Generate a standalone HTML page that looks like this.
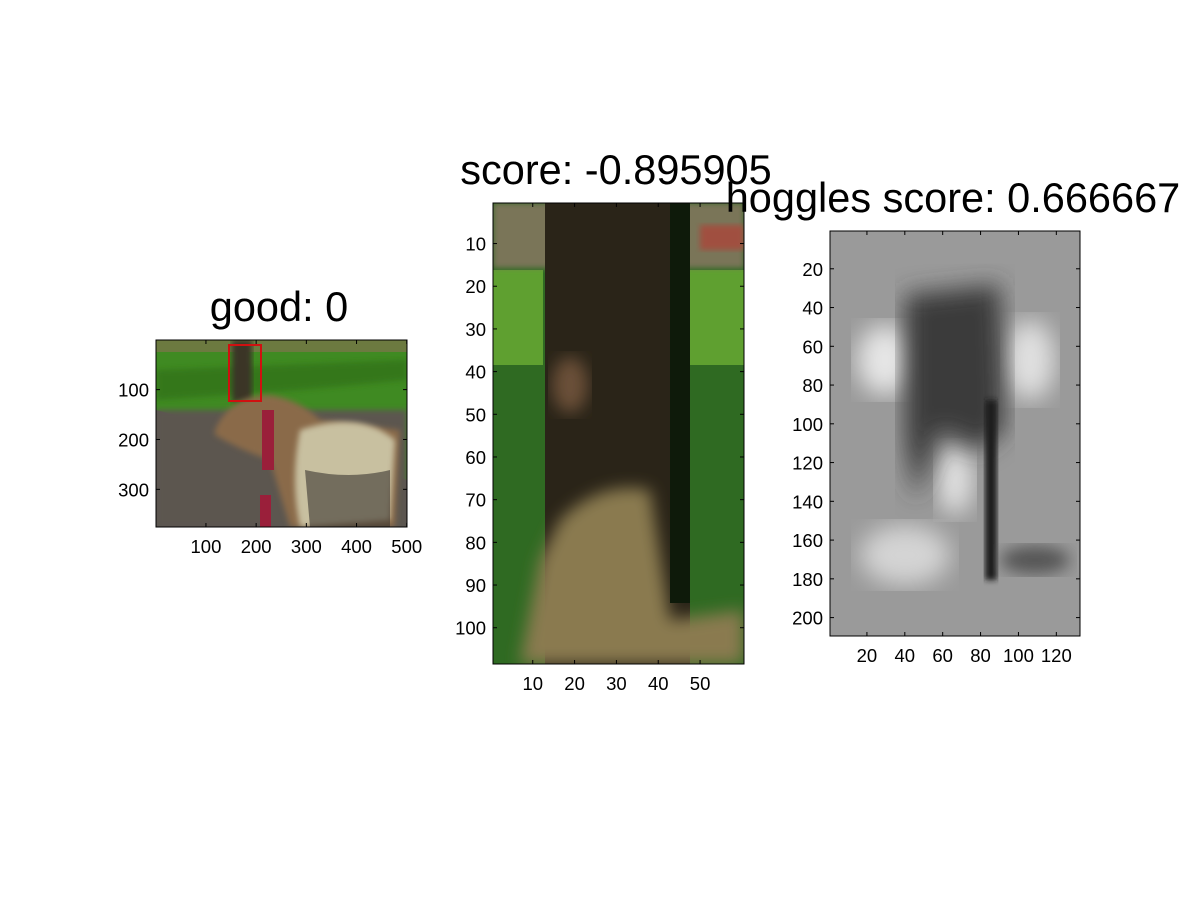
<!DOCTYPE html>
<html><head><meta charset="utf-8"><style>
html,body{margin:0;padding:0;background:#fff;}
svg{display:block;font-family:"Liberation Sans",sans-serif;}
</style></head><body>
<svg id="fig" width="1200" height="900" viewBox="0 0 1200 900" xmlns="http://www.w3.org/2000/svg">
<defs>
<filter id="b3"><feGaussianBlur stdDeviation="3"/></filter>
<filter id="b8"><feGaussianBlur stdDeviation="8"/></filter>
<filter id="b12"><feGaussianBlur stdDeviation="12"/></filter>
<clipPath id="c1"><rect x="156" y="340" width="251" height="187"/></clipPath>
<clipPath id="c2"><rect x="493" y="203" width="251" height="461"/></clipPath>
<clipPath id="c3"><rect x="830" y="231" width="250" height="405"/></clipPath>
</defs>
<g clip-path="url(#c1)">
<rect x="156" y="340" width="251" height="187" fill="#5a5550"/>
<rect x="156" y="340" width="251" height="12" fill="#6c7a40"/>
<polygon points="156,352 407,352 407,480 380,470 156,410" fill="#3f8a22"/>
<polygon points="156,400 300,390 407,380 407,360 156,370" fill="#2f6c18" opacity="0.6" filter="url(#b3)"/>
<rect x="156" y="410" width="251" height="117" fill="#5b5650" filter="url(#b3)"/>
<rect x="232" y="340" width="20" height="62" fill="#3a3428" filter="url(#b3)"/>
<path d="M215,430 Q230,395 270,395 Q300,400 320,420 L400,430 L395,527 L290,527 L270,460 Q240,450 215,435Z" fill="#8a6a48" filter="url(#b3)"/>
<path d="M300,430 Q360,410 395,440 L390,520 L300,527 Q290,480 300,430Z" fill="#c8c0a0" filter="url(#b3)"/>
<path d="M305,470 Q350,480 390,470 L390,527 L310,527Z" fill="#3a3630" opacity="0.6"/>
<rect x="262" y="410" width="12" height="60" fill="#9a1f3a"/>
<rect x="260" y="495" width="11" height="32" fill="#9a1f3a"/>
<rect x="229" y="345" width="32" height="56" fill="none" stroke="#d01010" stroke-width="2"/>
</g>
<rect x="156" y="340" width="251" height="187" fill="none" stroke="#000" stroke-width="1"/>
<g clip-path="url(#c2)">
<rect x="493" y="203" width="251" height="461" fill="#2f6a22"/>
<rect x="493" y="270" width="50" height="95" fill="#5fa030"/>
<rect x="690" y="270" width="54" height="95" fill="#5fa030"/>
<rect x="493" y="203" width="251" height="65" fill="#7a7458" filter="url(#b3)"/>
<rect x="700" y="225" width="44" height="25" fill="#a05040" filter="url(#b3)"/>
<rect x="545" y="203" width="145" height="461" fill="#2a2418"/>
<path d="M520,664 L540,560 L560,520 Q600,480 650,490 L670,620 L744,610 L744,664Z" fill="#8a7a50" filter="url(#b8)"/>
<ellipse cx="570" cy="385" rx="18" ry="28" fill="#6a5038" filter="url(#b8)"/>
<rect x="670" y="203" width="20" height="400" fill="#0e1a0a"/>
</g>
<rect x="493" y="203" width="251" height="461" fill="none" stroke="#000" stroke-width="1"/>
<g clip-path="url(#c3)">
<rect x="830" y="231" width="250" height="405" fill="#9a9a9a"/>
<ellipse cx="885" cy="360" rx="28" ry="35" fill="#e6e6e6" filter="url(#b12)"/>
<ellipse cx="1030" cy="360" rx="25" ry="40" fill="#e0e0e0" filter="url(#b12)"/>
<ellipse cx="955" cy="480" rx="18" ry="35" fill="#e2e2e2" filter="url(#b12)"/>
<ellipse cx="905" cy="555" rx="45" ry="30" fill="#d4d4d4" filter="url(#b12)"/>
<path d="M905,295 L1000,285 L1005,430 L980,450 L940,430 L915,500 L905,440Z" fill="#3a3a3a" filter="url(#b12)"/>
<rect x="985" y="400" width="12" height="180" fill="#1e1e1e" filter="url(#b3)"/>
<ellipse cx="1035" cy="560" rx="35" ry="14" fill="#555" filter="url(#b8)"/>
</g>
<rect x="830" y="231" width="250" height="405" fill="none" stroke="#000" stroke-width="1"/>
<text x="279" y="321" font-size="41.5" text-anchor="middle">good: 0</text>
<text x="616" y="184" font-size="41.5" text-anchor="middle">score: -0.895905</text>
<text x="953" y="212" font-size="41.5" text-anchor="middle">hoggles score: 0.666667</text>
<g id="ticks"></g>
</svg>
<script>
const ax1XTicks = [100, 200, 300, 400, 500];
const ax1YTicks = [100, 200, 300];
const ax1Size = [500, 375];
const ax2XTicks = [10, 20, 30, 40, 50];
const ax2YTicks = [10, 20, 30, 40, 50, 60, 70, 80, 90, 100];
const ax2Size = [60, 108];
const ax3XTicks = [20, 40, 60, 80, 100, 120];
const ax3YTicks = [20, 40, 60, 80, 100, 120, 140, 160, 180, 200];
const ax3Size = [132, 209];
const NS = 'http://www.w3.org/2000/svg';
const g = document.getElementById('ticks');
function el(tag, attrs){const e=document.createElementNS(NS,tag);for(const k in attrs)e.setAttribute(k,attrs[k]);g.appendChild(e);return e;}
function drawAxes(id, box, size, xt, yt){
  const [x0,y0,w,h]=box;
  const sx=v=>x0+(v-0.5)/size[0]*w;
  const sy=v=>y0+(v-0.5)/size[1]*h;
  xt.forEach(v=>{
    const t=el('text',{x:sx(v),y:y0+h+26,'font-size':18.5,'text-anchor':'middle'});
    t.textContent=v;
    
    
    const l=el('line',{x1:sx(v),x2:sx(v),y1:y0+h,y2:y0+h-4,stroke:'#000'});
    
    
    const l2=el('line',{x1:sx(v),x2:sx(v),y1:y0,y2:y0+4,stroke:'#000'});
    
    
  });
  yt.forEach(v=>{
    const t=el('text',{x:x0-7,y:sy(v)+7,'font-size':18.5,'text-anchor':'end'});
    t.textContent=v;
    
    
    const l=el('line',{x1:x0,x2:x0+4,y1:sy(v),y2:sy(v),stroke:'#000'});
    
    
    const l2=el('line',{x1:x0+w,x2:x0+w-4,y1:sy(v),y2:sy(v),stroke:'#000'});
    
    
  });
}
drawAxes('axes1',[156,340,251,187],ax1Size,ax1XTicks,ax1YTicks);
drawAxes('axes2',[493,203,251,461],ax2Size,ax2XTicks,ax2YTicks);
drawAxes('axes3',[830,231,250,405],ax3Size,ax3XTicks,ax3YTicks);
</script>
</body></html>
